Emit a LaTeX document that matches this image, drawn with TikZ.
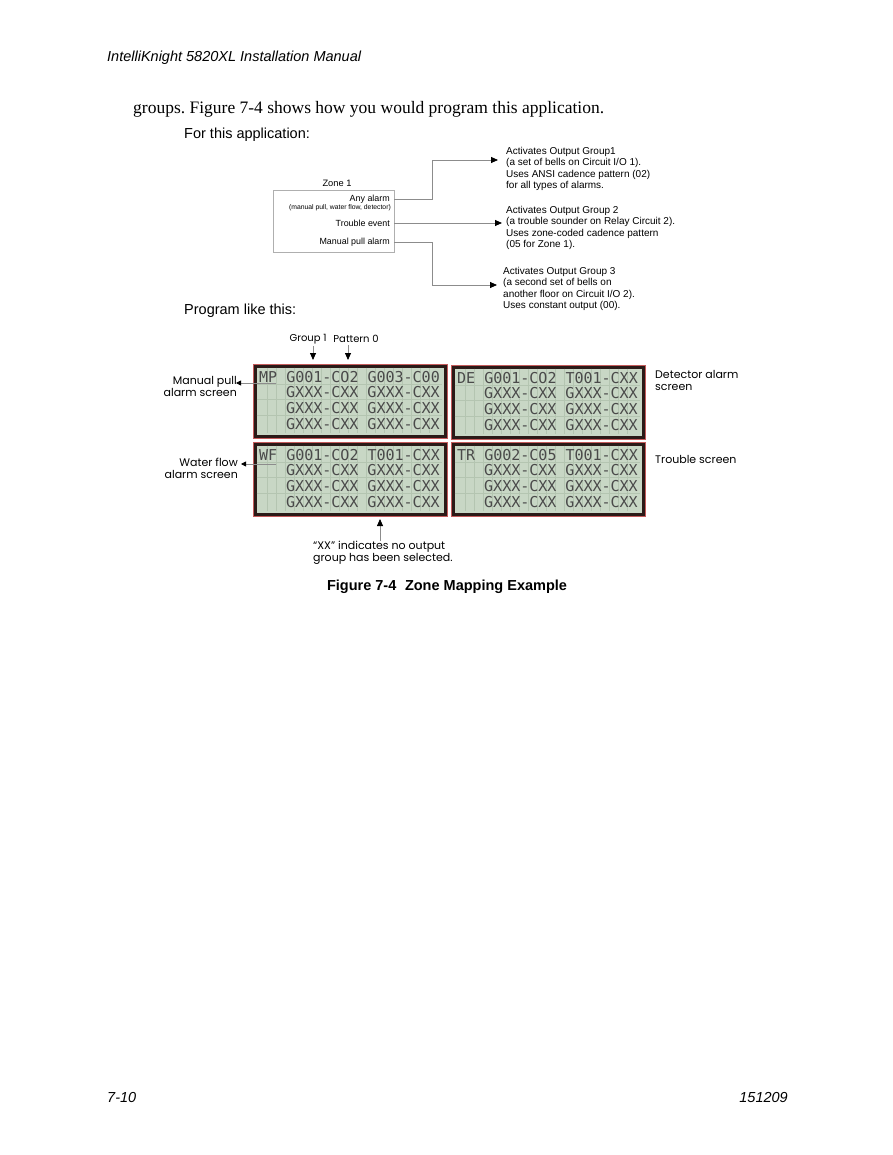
\documentclass[tikz,border=0pt]{standalone}
\usepackage{fontspec}
\setmainfont{Liberation Serif}
\newfontfamily\arialfont{Liberation Sans}
\newfontfamily\gothicfont{Poppins}
\newfontfamily\lcdfont{DejaVu Sans Mono}
\usetikzlibrary{arrows.meta, positioning}
\definecolor{lcdgreen}{HTML}{C8D7C5}
\definecolor{lcdgrid}{HTML}{B4C5B1}
\definecolor{lcdink}{HTML}{4A4A4A}
\definecolor{lcdrim}{HTML}{C45B5B}
\definecolor{lcdedge}{HTML}{2A1A17}
\definecolor{wire}{HTML}{8C8C8C}
\frenchspacing
\begin{document}
\begin{tikzpicture}[x=1pt, y=-1pt, >={Triangle[length=7pt,width=6pt,color=black]},
    wire/.style={draw=wire, line width=0.8pt},
    txt/.style={inner sep=0pt, anchor=west},
    small/.style={txt, font=\arialfont\fontsize{10}{11.3}\selectfont, align=left},
    lbl/.style={inner sep=0pt, font=\gothicfont\fontsize{11}{12}\selectfont},
    lcdscreen/.style={anchor=north west, minimum width=190, minimum height=70, inner sep=0pt,
        fill=lcdgreen, draw=lcdedge, line width=3pt,
        preaction={draw=lcdrim, line width=4.4pt}},
    lcdrow/.style={txt, font=\lcdfont\fontsize{15}{15}\selectfont, text=lcdink}]
    % 1. page frame and running text
    \useasboundingbox[fill=white] (0,0) rectangle (892,1155);
    \node[txt, font=\arialfont\itshape\fontsize{14.5}{16}\selectfont] (head) at (107,58) {IntelliKnight 5820XL Installation Manual};
    \node[txt, font=\fontsize{17.5}{20}\selectfont] (body) at (133,109) {groups. Figure 7-4 shows how you would program this application.};
    \node[txt, font=\arialfont\fontsize{14.5}{16}\selectfont] (forapp) at (184,135) {For this application:};
    \node[txt, font=\arialfont\fontsize{14.5}{16}\selectfont] (prog) at (184,311) {Program like this:};

    % 2. zone box with its events
    \node[draw=wire!70, line width=0.8pt, minimum width=121, minimum height=62, inner sep=0pt] (zone) at (333.5,221) {};
    \node[inner sep=0pt, font=\arialfont\fontsize{9.3}{10}\selectfont] (zonename) at (337,183) {Zone 1};
    \node[inner sep=0pt, anchor=east, font=\arialfont\fontsize{8.9}{10}\selectfont] (any) at (390,199) {Any alarm};
    \node[inner sep=0pt, anchor=east, font=\arialfont\fontsize{6.8}{8}\selectfont] (anynote) at (391,208) {(manual pull, water flow, detector)};
    \node[inner sep=0pt, anchor=east, font=\arialfont\fontsize{8.9}{10}\selectfont] (trouble) at (390,223) {Trouble event};
    \node[inner sep=0pt, anchor=east, font=\arialfont\fontsize{8.9}{10}\selectfont] (manual) at (390,242) {Manual pull alarm};

    % 3. output groups
    \node[small, anchor=north west] (grp1) at (506,147) {Activates Output Group1\\(a set of bells on Circuit I/O 1).\\Uses ANSI cadence pattern (02)\\for all types of alarms.};
    \node[small, anchor=north west] (grp2) at (506,206) {Activates Output Group 2\\(a trouble sounder on Relay Circuit 2).\\Uses zone-coded cadence pattern\\(05 for Zone 1).};
    \node[small, anchor=north west] (grp3) at (503,267) {Activates Output Group 3\\(a second set of bells on\\another floor on Circuit I/O 2).\\Uses constant output (00).};
    \coordinate (tip1) at (498,160);
    \coordinate (tip2) at (502,223);
    \coordinate (tip3) at (497,285);
    \draw[wire, ->] (zone.east |- any) -- (432,199) |- (tip1);
    \draw[wire, ->] (zone.east |- trouble) -- (tip2);
    \draw[wire, ->] (zone.east |- manual) -- (432,242) |- (tip3);

    % 4. the four LCD screens
    \foreach \nm/\sx/\sy/\first in {mp/254/365/{MP G001-CO2 G003-C00}, de/452/366/{DE G001-CO2 T001-CXX},
        wf/254/443/{WF G001-CO2 T001-CXX}, tr/452/443/{TR G002-C05 T001-CXX}} {
        \node[lcdscreen] (\nm) at (\sx,\sy) {};
        \foreach \k in {1,...,19}
            \draw[lcdgrid, line width=0.5pt] ({\sx+4+9*\k},\sy+2.5) -- ({\sx+4+9*\k},\sy+67.5);
        \foreach \r in {1,2,3}
            \draw[lcdgrid, line width=0.5pt] (\sx+2.5,{\sy+3+15.75*\r}) -- (\sx+187.5,{\sy+3+15.75*\r});
        \node[lcdrow] (\nm-r1) at (\sx+5,\sy+11.6) {\first};
        \foreach \r in {2,3,4}
            \node[lcdrow] (\nm-r\r) at (\sx+32,{\sy+11.6+15.75*(\r-1)}) {GXXX-CXX GXXX-CXX};
    }

    % 5. screen labels
    \node[lbl, anchor=north east, align=right] (mplbl) at (237,376) {Manual pull\\alarm screen};
    \node[lbl, anchor=north west, align=left] (delbl) at (655,370) {Detector alarm\\screen};
    \node[lbl, anchor=north east, align=right] (wflbl) at (238,458) {Water flow\\alarm screen};
    \node[lbl, anchor=west] (trlbl) at (655,459) {Trouble screen};
    \coordinate (mptip) at (236,383);
    \coordinate (mpcur) at (276,383);
    \coordinate (wftip) at (241,464);
    \coordinate (wfcur) at (276,464);
    \draw[wire, -{Triangle[length=5pt,width=5pt,color=black]}] (mpcur) -- (mptip);
    \draw[wire, -{Triangle[length=5pt,width=5pt,color=black]}] (wfcur) -- (wftip);

    % 6. group / pattern callouts and the XX note
    \node[lbl, font=\gothicfont\fontsize{10}{11}\selectfont] (g1) at (308,339) {Group 1};
    \node[lbl, font=\gothicfont\fontsize{10}{11}\selectfont] (pat) at (356,339) {Pattern 0};
    \coordinate (g1tip) at (313,360);
    \coordinate (pattip) at (348,360);
    \draw[wire, ->] (g1.south -| g1tip) ++(0,2) -- (g1tip);
    \draw[wire, ->] (pat.south -| pattip) ++(0,2) -- (pattip);
    \node[lbl, anchor=north west, align=left] (xx) at (313,541) {“XX” indicates no output\\group has been selected.};
    \coordinate (xxtip) at (380,519);
    \draw[wire, ->] (xx.north -| xxtip) -- (xxtip);

    % 7. caption and footer
    \node[inner sep=0pt, font=\arialfont\bfseries\fontsize{14.5}{16}\selectfont] (cap) at (447,587) {Figure 7-4\hspace{0.6em}Zone Mapping Example};
    \node[txt, font=\arialfont\itshape\fontsize{14.5}{16}\selectfont] (page) at (107,1097) {7-10};
    \node[inner sep=0pt, anchor=east, font=\arialfont\itshape\fontsize{14.5}{16}\selectfont] (rev) at (788,1097) {151209};
\end{tikzpicture}
\end{document}
